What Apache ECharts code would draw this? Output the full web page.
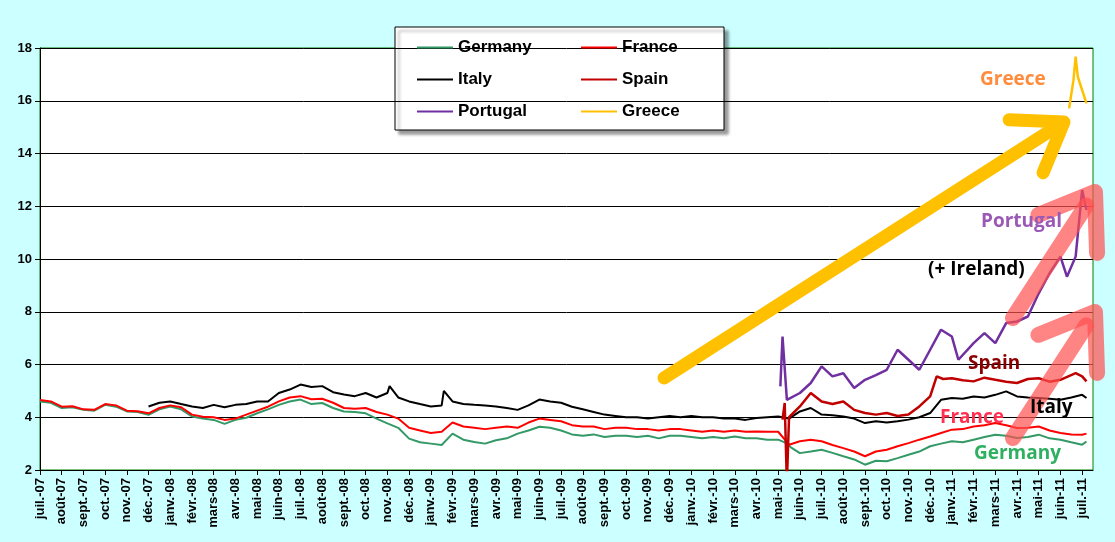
<!DOCTYPE html>
<html><head><meta charset="utf-8">
<script src="https://cdn.jsdelivr.net/npm/echarts@6/dist/echarts.min.js"></script>
<style>html,body{margin:0;padding:0;background:#ccffff}#c{width:1115px;height:542px}</style>
</head><body><div id="c"></div>
<script>
var months = ['juil.-07','août-07','sept.-07','oct.-07','nov.-07','déc.-07','janv.-08','févr.-08','mars-08','avr.-08','mai-08','juin-08',
  'juil.-08','août-08','sept.-08','oct.-08','nov.-08','déc.-08','janv.-09','févr.-09','mars-09','avr.-09','mai-09','juin-09',
  'juil.-09','août-09','sept.-09','oct.-09','nov.-09','déc.-09','janv.-10','févr.-10','mars-10','avr.-10','mai-10','juin-10',
  'juil.-10','août-10','sept.-10','oct.-10','nov.-10','déc.-10','janv.-11','févr.-11','mars-11','avr.-11','mai-11','juin-11','juil.-11'];

// [month index, yield %]
var germany = [[0,4.6],[0.5,4.55],[1,4.35],[1.5,4.38],[2,4.28],[2.5,4.25],[3,4.47],[3.5,4.4],[4,4.22],[4.5,4.2],[5,4.09],[5.5,4.3],[6,4.41],[6.5,4.3],
  [7,4.03],[7.5,3.95],[8,3.9],[8.5,3.75],[9,3.9],[9.5,3.98],[10,4.15],[10.5,4.3],[11,4.47],[11.5,4.6],[12,4.67],[12.5,4.5],[13,4.54],[13.5,4.35],
  [14,4.22],[14.5,4.2],[15,4.15],[15.5,3.95],[16,3.77],[16.5,3.6],[17,3.19],[17.5,3.05],[18,3.0],[18.5,2.95],[19,3.38],[19.5,3.15],[20,3.06],
  [20.5,3.0],[21,3.13],[21.5,3.2],[22,3.38],[22.5,3.5],[23,3.64],[23.5,3.6],[24,3.5],[24.5,3.35],[25,3.3],[25.5,3.35],[26,3.25],[26.5,3.3],
  [27,3.3],[27.5,3.25],[28,3.3],[28.5,3.2],[29,3.3],[29.5,3.3],[30,3.25],[30.5,3.2],[31,3.25],[31.5,3.2],[32,3.27],[32.5,3.2],[33,3.2],
  [33.5,3.15],[34,3.15],[34.3,3.05],[34.6,2.85],[35,2.64],[35.5,2.7],[36,2.77],[36.5,2.65],[37,2.52],[37.5,2.4],[38,2.2],[38.5,2.35],[39,2.33],
  [39.5,2.45],[40,2.58],[40.5,2.7],[41,2.9],[41.5,3.0],[42,3.09],[42.5,3.05],[43,3.15],[43.5,3.25],[44,3.34],[44.5,3.3],[45,3.21],[45.5,3.25],
  [46,3.34],[46.5,3.2],[47,3.15],[47.5,3.05],[48,2.96],[48.2,3.08]];
var france = [[0,4.65],[0.5,4.6],[1,4.4],[1.5,4.42],[2,4.3],[2.5,4.28],[3,4.5],[3.5,4.45],[4,4.25],[4.5,4.23],[5,4.15],[5.5,4.35],[6,4.45],[6.5,4.38],
  [7,4.1],[7.5,4.02],[8,4.0],[8.5,3.9],[9,3.95],[9.5,4.1],[10,4.25],[10.5,4.4],[11,4.6],[11.5,4.75],[12,4.8],[12.5,4.68],[13,4.7],[13.5,4.55],
  [14,4.35],[14.5,4.32],[15,4.35],[15.5,4.2],[16,4.1],[16.5,3.95],[17,3.6],[17.5,3.5],[18,3.4],[18.5,3.45],[19,3.8],[19.5,3.65],[20,3.6],
  [20.5,3.55],[21,3.6],[21.5,3.65],[22,3.6],[22.5,3.8],[23,3.95],[23.5,3.9],[24,3.85],[24.5,3.7],[25,3.65],[25.5,3.65],[26,3.55],[26.5,3.6],
  [27,3.6],[27.5,3.55],[28,3.55],[28.5,3.5],[29,3.55],[29.5,3.55],[30,3.5],[30.5,3.45],[31,3.5],[31.5,3.45],[32,3.5],[32.5,3.45],[33,3.46],
  [33.5,3.45],[34,3.45],[34.5,2.96],[35,3.09],[35.5,3.15],[36,3.09],[36.5,2.95],[37,2.83],[37.5,2.7],[38,2.52],[38.5,2.7],[39,2.77],
  [39.5,2.9],[40,3.02],[40.5,3.15],[41,3.27],[41.5,3.4],[42,3.53],[42.5,3.55],[43,3.65],[43.5,3.7],[44,3.78],[44.5,3.7],[45,3.59],[45.5,3.6],
  [46,3.65],[46.5,3.5],[47,3.4],[47.5,3.35],[48,3.34],[48.2,3.38]];
var italy = [[5,4.41],[5.5,4.55],[6,4.6],[6.5,4.5],[7,4.41],[7.5,4.35],[8,4.47],[8.5,4.38],[9,4.47],[9.5,4.5],[10,4.6],[10.5,4.6],[11,4.92],
  [11.5,5.05],[12,5.24],[12.5,5.15],[13,5.18],[13.5,4.95],[14,4.86],[14.5,4.8],[15,4.92],[15.5,4.75],[16,4.92],[16.1,5.18],[16.5,4.75],
  [17,4.6],[17.5,4.5],[18,4.41],[18.5,4.45],[18.6,5.0],[19,4.6],[19.5,4.5],[20,4.47],[20.5,4.45],[21,4.41],[21.5,4.35],[22,4.28],[22.5,4.45],
  [23,4.67],[23.5,4.6],[24,4.55],[24.5,4.4],[25,4.3],[25.5,4.2],[26,4.1],[26.5,4.05],[27,4.0],[27.5,4.0],[28,3.95],[28.5,4.0],[29,4.05],
  [29.5,4.0],[30,4.05],[30.5,4.0],[31,4.0],[31.5,3.95],[32,3.95],[32.5,3.9],[33,3.97],[33.5,4.0],[34,4.03],[34.5,3.95],[35,4.22],[35.5,4.35],
  [36,4.1],[36.5,4.08],[37,4.03],[37.5,3.95],[38,3.78],[38.5,3.85],[39,3.8],[39.5,3.85],[40,3.91],[40.5,4.0],[41,4.16],[41.5,4.66],[42,4.73],
  [42.5,4.7],[43,4.79],[43.5,4.75],[44,4.85],[44.5,4.98],[45,4.79],[45.5,4.75],[46,4.73],[46.5,4.7],[47,4.66],[47.5,4.75],[48,4.85],[48.2,4.73]];
var spain = [[34.2,3.91],[34.3,4.54],[34.4,1.5],[34.5,4.0],[35,4.41],[35.5,4.92],[36,4.6],[36.5,4.5],[37,4.6],[37.5,4.28],[38,4.16],[38.5,4.1],
  [39,4.16],[39.5,4.05],[40,4.1],[40.5,4.41],[41,4.79],[41.3,5.55],[41.6,5.45],[42,5.48],[42.5,5.4],[43,5.36],[43.5,5.5],[44,5.42],[44.5,5.35],
  [45,5.3],[45.5,5.45],[46,5.48],[46.5,5.35],[47,5.42],[47.7,5.67],[48,5.55],[48.2,5.36]];
var portugal = [[34.1,5.17],[34.2,7.06],[34.4,4.66],[35,4.92],[35.5,5.3],[36,5.93],[36.5,5.55],[37,5.67],[37.5,5.11],[38,5.42],[38.5,5.6],
  [39,5.8],[39.5,6.56],[40,6.18],[40.5,5.8],[41,6.56],[41.5,7.32],[42,7.06],[42.3,6.18],[43,6.81],[43.5,7.19],[44,6.81],[44.5,7.57],[45,7.63],
  [45.5,7.82],[46,8.7],[46.5,9.46],[47,10.09],[47.3,9.33],[47.7,10.09],[48,12.62],[48.2,11.86]];
var greece = [[47.4,15.71],[47.6,16.78],[47.7,17.67],[47.8,16.91],[48,16.4],[48.2,15.9]];

var chart = echarts.init(document.getElementById('c'));
function ser(name, data, color, w) {
  return {name: name, type: 'line', data: data, showSymbol: false, symbol: 'none', lineStyle: {color: color, width: w}, itemStyle: {color: color}, z: 3};
}
// annotation arrow: shaft plus filled chevron head
function arrow(x1, y1, x2, y2, w, head, color, opacity) {
  var dx = x2 - x1, dy = y2 - y1, L = Math.sqrt(dx * dx + dy * dy), ux = dx / L, uy = dy / L;
  var bx = x2 - ux * head, by = y2 - uy * head, px = -uy, py = ux;
  return [
    {type: 'line', shape: {x1: x1, y1: y1, x2: x2 - ux * w, y2: y2 - uy * w}, style: {stroke: color, lineWidth: w, opacity: opacity, lineCap: 'round'}, z: 10},
    {type: 'polyline', shape: {points: [[bx + px * head * 0.7, by + py * head * 0.7], [x2, y2], [bx - px * head * 0.7, by - py * head * 0.7]]},
      style: {stroke: color, lineWidth: w, opacity: opacity, fill: null, lineCap: 'round', lineJoin: 'round'}, z: 10}
  ];
}
function label(t, x, y, c) {
  return {type: 'text', left: x, top: y, style: {text: t, fill: c, font: 'bold 19px "Open Sans", Arial, sans-serif'}, z: 11};
}
var lgText = {fontFamily: 'Arial', fontWeight: 'bold', fontSize: 17, color: '#000'};
chart.setOption({
  backgroundColor: '#ccffff',
  animation: false,
  grid: {left: 40, right: 22, top: 48, bottom: 72, show: true, backgroundColor: '#fff', borderColor: '#008000', borderWidth: 1},
  legend: [
    {data: ['Germany', 'Italy', 'Portugal'], orient: 'vertical', left: 412, top: 34, itemGap: 15, itemWidth: 36, itemHeight: 2, icon: 'rect', textStyle: lgText},
    {data: ['France', 'Spain', 'Greece'], orient: 'vertical', left: 576, top: 34, itemGap: 15, itemWidth: 36, itemHeight: 2, icon: 'rect', textStyle: lgText}
  ],
  xAxis: {type: 'value', min: 0, max: 48.5, interval: 1,
    axisLine: {lineStyle: {color: '#000'}}, axisTick: {lineStyle: {color: '#000'}},
    splitLine: {show: false},
    axisLabel: {rotate: 90, fontFamily: 'Arial', fontWeight: 'bold', fontSize: 13, color: '#000', showMaxLabel: false,
      formatter: function (v) { return months[Math.round(v)] || ''; }}},
  yAxis: {type: 'value', min: 2, max: 18, interval: 2,
    axisLine: {show: true, lineStyle: {color: '#000'}}, axisTick: {show: true},
    splitLine: {lineStyle: {color: '#000', width: 1}},
    axisLabel: {fontFamily: 'Arial', fontWeight: 'bold', fontSize: 13, color: '#000'}},
  series: [
    ser('Germany', germany, '#339966', 2),
    ser('France', france, '#ff0000', 2),
    ser('Italy', italy, '#000000', 2),
    ser('Spain', spain, '#c00000', 2.5),
    ser('Portugal', portugal, '#7030a0', 2.5),
    ser('Greece', greece, '#ffc000', 2.5)
  ],
  graphic: [
    {type: 'rect', shape: {x: 395, y: 27, width: 329, height: 103}, style: {fill: '#fff', stroke: '#000', lineWidth: 1,
      shadowColor: 'rgba(0,0,0,0.4)', shadowOffsetX: 4, shadowOffsetY: 4, shadowBlur: 3}, z: 0}
  ].concat(
    arrow(664, 378, 1064, 122, 13, 45, '#ffc000', 1),
    arrow(1013, 318, 1095, 192, 16, 50, '#ff5050', 0.7),
    arrow(1013, 438, 1095, 312, 16, 50, '#ff5050', 0.7),
    [label('Greece', 980, 70, '#ff8c3c'), label('Portugal', 981, 212, '#9b59b6'), label('(+ Ireland)', 928, 260, '#000'),
     label('Spain', 968, 354, '#8b0000'), label('Italy', 1030, 398, '#000'), label('France', 940, 408, '#ff3050'),
     label('Germany', 974, 444, '#2eb060')]
  )
});
</script></body></html>
